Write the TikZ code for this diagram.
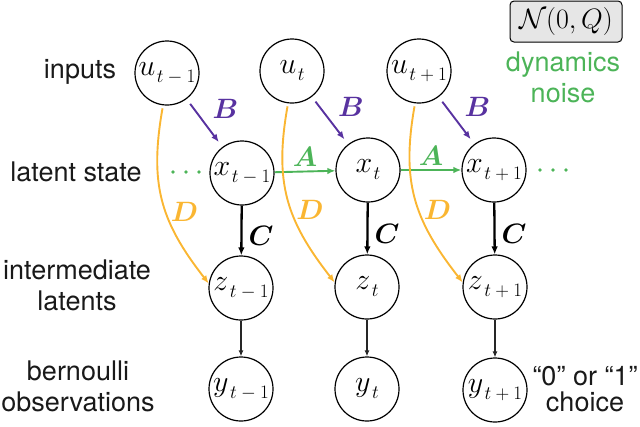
\documentclass[tikz,border=0pt]{standalone}
\usepackage{fix-cm}
\usepackage{bm}
\usepackage[no-math]{fontspec}
\newfontfamily\hvfont{TeX Gyre Heros}
\usetikzlibrary{arrows.meta}
\definecolor{cB}{RGB}{88,50,160}
\definecolor{cA}{RGB}{76,180,88}
\definecolor{cD}{RGB}{250,182,50}
\definecolor{boxgray}{RGB}{230,230,230}
\definecolor{txt}{RGB}{25,25,25}
\newcommand\myvarfont{\fontsize{30}{36}\selectfont}
\newcommand\myedgefont{\fontsize{28}{32}\selectfont}
\newcommand\vsub[2]{$#1$\hspace{1.5pt}\raisebox{-7pt}{\fontsize{19}{24}\selectfont$#2$}}
\begin{document}
\begin{tikzpicture}[x=1pt,y=1pt,
  var/.style={circle, draw=black, line width=1.2pt, minimum size=64pt, inner sep=0pt, font=\myvarfont},
  lab/.style={font=\hvfont\fontsize{27}{31}\selectfont, align=center, text=txt, inner sep=0pt},
  tip/.style={-{Latex[length=8pt,width=6.5pt]}},
  Barrow/.style={tip, draw=cB, line width=1.9pt, shorten >=6pt, shorten <=6pt},
  Aarrow/.style={tip, draw=cA, line width=1.9pt},
  Carrow/.style={tip, draw=black, line width=2.3pt},
  Zarrow/.style={-{Latex[length=6pt,width=5pt]}, draw=black!85, line width=1.2pt},
  Darrow/.style={tip, draw=cD, line width=1.9pt, shorten <=3pt},
  elab/.style={font=\myedgefont, inner sep=0pt}
]
\useasboundingbox (0,0) rectangle (640,-426);

% row labels
\node[lab] (linputs) at (80,-72) {inputs};
\node[lab] (llatent) at (76,-172) {latent state};
\node[lab] (linter) at (77,-285) {intermediate\\latents};
\node[lab] (lbern) at (78,-386) {bernoulli\\observations};

% noise box
\node[draw=black, fill=boxgray, rounded corners=4pt, line width=1pt,
      minimum width=112pt, minimum height=41pt, inner sep=0pt, font=\myedgefont]
      (noise) at (566,-21.5) {$\mathcal{N}(0,Q)$};
\node[lab, text=cA] (lnoise) at (563,-77) {dynamics\\noise};
\node[lab, font=\hvfont\fontsize{27}{26}\selectfont] (lchoice) at (585,-389) {“0” or “1”\\choice};

% variables
\node[var] (u1) at (167,-73) {\vsub{u}{t-1}};
\node[var] (u2) at (292,-71) {\vsub{u}{t}};
\node[var] (u3) at (419,-71) {\vsub{u}{t+1}};
\node[var] (x1) at (242,-173) {\vsub{x}{t-1}};
\node[var] (x2) at (368,-170) {\vsub{x}{t}};
\node[var] (x3) at (494,-170) {\vsub{x}{t+1}};
\node[var] (z1) at (241,-288) {\vsub{z}{t-1}};
\node[var] (z2) at (367,-287) {\vsub{z}{t}};
\node[var] (z3) at (495,-287) {\vsub{z}{t+1}};
\node[var] (y1) at (241,-389) {\vsub{y}{t-1}};
\node[var] (y2) at (367,-389) {\vsub{y}{t}};
\node[var] (y3) at (495,-390) {\vsub{y}{t+1}};

% dots
\foreach \xx in {173,186,199} \fill[cA] (\xx,-172) circle (1.8);
\foreach \xx in {540,553,566} \fill[cA] (\xx,-170) circle (1.8);

% B arrows
\draw[Barrow] (u1) -- node[elab, text=cB, midway, xshift=21pt, yshift=14pt] {$\bm{B}$} (x1);
\draw[Barrow] (u2) -- node[elab, text=cB, midway, xshift=21pt, yshift=14pt] {$\bm{B}$} (x2);
\draw[Barrow] (u3) -- node[elab, text=cB, midway, xshift=21pt, yshift=14pt] {$\bm{B}$} (x3);

% A arrows
\draw[Aarrow] (x1) -- node[elab, text=cA, midway, above=4pt] {$\bm{A}$} (x2);
\draw[Aarrow] (x2) -- node[elab, text=cA, midway, above=4pt] {$\bm{A}$} (x3);

% C arrows
\draw[Carrow] (x1) -- node[elab, midway, right=6pt, yshift=-5pt] {$\bm{C}$} (z1);
\draw[Carrow] (x2) -- node[elab, midway, right=6pt, yshift=-5pt] {$\bm{C}$} (z2);
\draw[Carrow] (x3) -- node[elab, midway, right=6pt, yshift=-5pt] {$\bm{C}$} (z3);

% z -> y
\draw[Zarrow] (z1) -- (y1);
\draw[Zarrow] (z2) -- (y2);
\draw[Zarrow] (z3) -- (y3);

% D arrows
\draw[Darrow] (u1.263) to[out=260,in=128,looseness=1.1] node[elab, text=cD, pos=0.57, right=4pt] {$\bm{D}$} (z1.172);
\draw[Darrow] (u2.263) to[out=260,in=128,looseness=1.1] node[elab, text=cD, pos=0.57, right=4pt] {$\bm{D}$} (z2.172);
\draw[Darrow] (u3.263) to[out=260,in=128,looseness=1.1] node[elab, text=cD, pos=0.57, right=4pt] {$\bm{D}$} (z3.172);
\end{tikzpicture}
\end{document}
